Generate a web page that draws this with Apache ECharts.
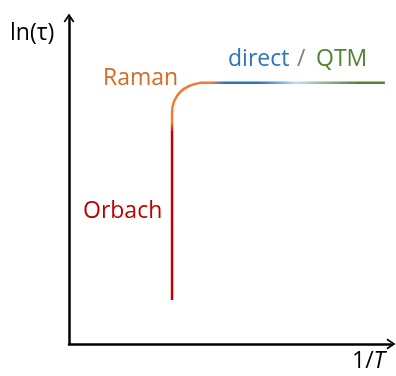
<!DOCTYPE html>
<html>
<head>
<meta charset="utf-8">
<script src="https://cdn.jsdelivr.net/npm/echarts@6/dist/echarts.min.js"></script>
<style>
  html, body { margin: 0; padding: 0; background: #fff; }
  #chart { width: 396px; height: 376px; }
</style>
</head>
<body>
<div id="chart"></div>
<script>
// Schematic relaxation regimes: ln(tau) versus 1/T (arbitrary units 0..100)
const orbachPoints = [[32.0, 13.5], [32.0, 65.6]];
const ramanPoints = [[32.0, 65.6], [32.0, 71.2], [32.66, 74.5], [34.55, 77.3], [37.37, 79.15], [40.7, 80.1]];
const plateauPoints = [[40.7, 80.1], [98.1, 80.1]];
const axisRange = [0, 100];

const FONT = '"Open Sans", "Liberation Sans", sans-serif';
const RED = '#C00000';
const ORANGE = '#ED7D31';
const ORANGE_TEXT = '#D46B26';
const BLUE = '#2E75B6';
const GREEN = '#548235';

// open chevron used as the axis arrow head
const chevron = 'path://M0,9 L6,0 L12,9 L10.4,10 L6,3.4 L1.6,10 Z';

const chart = echarts.init(document.getElementById('chart'), null, { renderer: 'canvas' });

function label(text, left, top, size, fill, extra) {
  return { type: 'text', left: left, top: top,
    style: Object.assign({ text: text, font: size + 'px ' + FONT, fill: fill }, extra || {}) };
}

chart.setOption({
  animation: false,
  backgroundColor: '#ffffff',
  grid: { left: 69, right: 5, top: 18, bottom: 32, containLabel: false },
  xAxis: {
    type: 'value', min: axisRange[0], max: axisRange[1],
    axisLine: { show: true, onZero: false, symbol: ['none', chevron], symbolSize: [12, 9],
      lineStyle: { color: '#000', width: 2.5 } },
    axisTick: { show: false }, axisLabel: { show: false }, splitLine: { show: false }
  },
  yAxis: {
    type: 'value', min: axisRange[0], max: axisRange[1],
    axisLine: { show: true, onZero: false, symbol: ['none', chevron], symbolSize: [12, 9],
      lineStyle: { color: '#000', width: 2.5 } },
    axisTick: { show: false }, axisLabel: { show: false }, splitLine: { show: false }
  },
  series: [
    {
      name: 'Orbach', type: 'line', data: orbachPoints, showSymbol: false,
      lineStyle: { color: RED, width: 2.5 }
    },
    {
      name: 'Raman', type: 'line', data: ramanPoints, showSymbol: false, smooth: true,
      lineStyle: {
        width: 2.5,
        color: new echarts.graphic.LinearGradient(0, 0, 0, 1, [
          { offset: 0, color: ORANGE },
          { offset: 0.8, color: ORANGE },
          { offset: 1, color: RED }
        ])
      }
    },
    {
      name: 'direct / QTM', type: 'line', data: plateauPoints, showSymbol: false,
      lineStyle: {
        width: 2.5,
        color: new echarts.graphic.LinearGradient(0, 0, 1, 0, [
          { offset: 0, color: ORANGE },
          { offset: 0.07, color: ORANGE },
          { offset: 0.14, color: BLUE },
          { offset: 0.33, color: BLUE },
          { offset: 0.52, color: '#C5DCF0' },
          { offset: 0.85, color: GREEN },
          { offset: 1, color: GREEN }
        ])
      }
    }
  ],
  graphic: [
    label('ln(τ)', 10, 22, 23, '#000'),
    label('Raman', 103, 67, 23, ORANGE_TEXT),
    label('Orbach', 83, 200, 23, RED),
    label('direct', 228, 48, 23, BLUE),
    label('/', 297, 48, 23, '#7F7F7F'),
    label('QTM', 316, 48, 23, GREEN),
    {
      type: 'text', left: 352, top: 350,
      style: {
        text: '{n|1/}{i|T}',
        rich: {
          n: { fill: '#000', font: '23px ' + FONT },
          i: { fill: '#000', font: 'italic 23px ' + FONT }
        }
      }
    }
  ]
});
</script>
</body>
</html>
